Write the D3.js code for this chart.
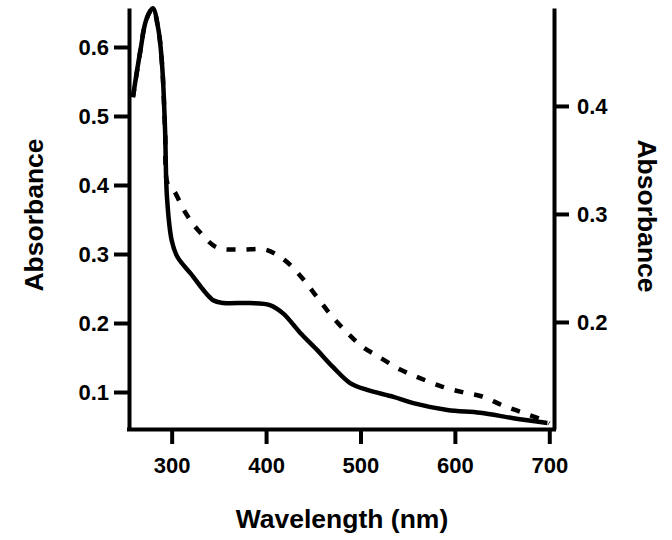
<!DOCTYPE html>
<html>
<head>
<meta charset="utf-8">
<script src="https://cdn.jsdelivr.net/npm/d3@7"></script>
<style>
html,body{margin:0;padding:0;background:#fff;}
svg{display:block;}
text{font-family:"Liberation Sans",Arial,sans-serif;font-weight:bold;fill:#000;}
</style>
</head>
<body>
<svg id="chart" width="672" height="540"></svg>
<script>
// Solid line (left axis)
const solidWavelength = [259, 267, 273, 280, 286, 290, 293, 295, 300, 306, 320, 344, 355, 383, 404, 418, 436, 454, 471, 489, 507, 535, 556, 592, 627, 662, 698];
const solidAbsorbance = [0.528, 0.596, 0.639, 0.656, 0.625, 0.571, 0.480, 0.383, 0.320, 0.296, 0.272, 0.233, 0.229, 0.229, 0.226, 0.214, 0.186, 0.161, 0.136, 0.113, 0.103, 0.093, 0.084, 0.074, 0.070, 0.062, 0.055];
// Dashed line (right axis)
const dashedWavelength = [259, 267, 273, 280, 286, 290, 293, 296, 302, 314, 328, 348, 373, 399, 420, 438, 454, 470, 486, 502, 519, 542, 563, 587, 608, 629, 650, 672, 694, 700];
const dashedAbsorbance = [0.408, 0.452, 0.480, 0.490, 0.470, 0.436, 0.378, 0.327, 0.322, 0.302, 0.285, 0.269, 0.267, 0.267, 0.257, 0.241, 0.223, 0.205, 0.190, 0.177, 0.168, 0.156, 0.148, 0.140, 0.135, 0.131, 0.123, 0.116, 0.109, 0.106];
const xTicks = [300, 400, 500, 600, 700];
const leftTicks = [0.1, 0.2, 0.3, 0.4, 0.5, 0.6];
const rightTicks = [0.2, 0.3, 0.4];
const xTitle = "Wavelength (nm)";
const yTitle = "Absorbance";

const svg = d3.select("#chart");
const L = 129, R = 554, T = 8, B = 429;
const x = d3.scaleLinear().domain([254.8, 705]).range([L, R]);
const yL = d3.scaleLinear().domain([0.0464, 0.6565]).range([B, T]);
const yR = d3.scaleLinear().domain([0.1009, 0.4907]).range([B, T]);

const solid = solidWavelength.map((w, i) => [w, solidAbsorbance[i]]);
const dashed = dashedWavelength.map((w, i) => [w, dashedAbsorbance[i]]);

const lineL = d3.line().x(d => x(d[0])).y(d => yL(d[1])).curve(d3.curveCatmullRom.alpha(0.5));
const lineR = d3.line().x(d => x(d[0])).y(d => yR(d[1])).curve(d3.curveCatmullRom.alpha(0.5));

svg.append("path").datum(dashed).attr("d", lineR)
  .attr("fill", "none").attr("stroke", "#000").attr("stroke-width", 4.5)
  .attr("stroke-dasharray", "9,11");
svg.append("path").datum(solid).attr("d", lineL)
  .attr("fill", "none").attr("stroke", "#000").attr("stroke-width", 4.5)
  .attr("stroke-linejoin", "round");

function styleAxis(g) {
  g.select(".domain").attr("stroke-width", 4).attr("stroke", "#000");
  g.selectAll(".tick line").attr("stroke-width", 4).attr("stroke", "#000");
  g.selectAll(".tick text").style("font-size", "22px").style("font-family", '"Liberation Sans",Arial,sans-serif').style("font-weight", "bold").attr("fill", "#000");
}

const gx = svg.append("g").attr("transform", `translate(0,${B})`)
  .call(d3.axisBottom(x).tickValues(xTicks).tickFormat(d3.format("d")).tickSize(15).tickSizeOuter(0).tickPadding(13));
styleAxis(gx);

const gl = svg.append("g").attr("transform", `translate(${L},0)`)
  .call(d3.axisLeft(yL).tickValues(leftTicks).tickFormat(d3.format(".1f")).tickSize(15).tickSizeOuter(0).tickPadding(5));
styleAxis(gl);

const gr = svg.append("g").attr("transform", `translate(${R},0)`)
  .call(d3.axisRight(yR).tickValues(rightTicks).tickFormat(d3.format(".1f")).tickSize(15).tickSizeOuter(0).tickPadding(8));
styleAxis(gr);

gx.select(".domain").attr("d", `M${L-2},0.5H${R+2}`);

svg.append("text").attr("x", 342).attr("y", 528).attr("text-anchor", "middle")
  .style("font-size", "26.5px").text(xTitle);
svg.append("text").attr("transform", "translate(43,215) rotate(-90)").attr("text-anchor", "middle")
  .style("font-size", "26.5px").text(yTitle);
svg.append("text").attr("transform", "translate(638,216) rotate(90)").attr("text-anchor", "middle")
  .style("font-size", "26.5px").text(yTitle);
</script>
</body>
</html>
